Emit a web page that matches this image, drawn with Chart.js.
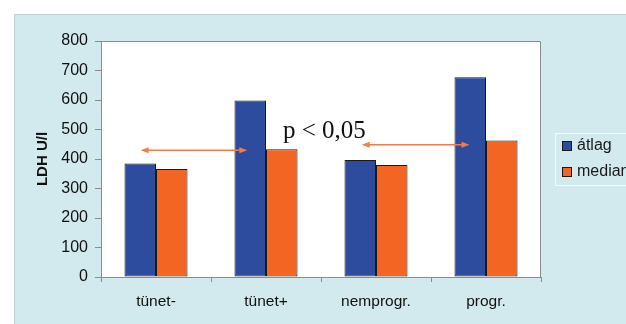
<!DOCTYPE html>
<html lang="hu">
  <head>
    <meta charset="UTF-8" />
    <script src="https://cdn.jsdelivr.net/npm/chart.js"></script>
    <style>
      body { margin: 0; background: #fff; overflow: hidden; }
      #myChart { display: block; }
    </style>
  </head>
  <body>
    <canvas id="myChart" width="626" height="324"></canvas>

    <script>
      const categories = ["tünet-", "tünet+", "nemprogr.", "progr."];
      const atlag = [385, 598, 397, 677];
      const median = [366, 433, 380, 463];
      const seriesNames = ["átlag", "median"];
      const yTicks = [0, 100, 200, 300, 400, 500, 600, 700, 800];
      // arrows: from/to in category index units, at an LDH level
      const arrowFrom = [-0.14, 1.87];
      const arrowTo = [0.83, 2.85];
      const arrowLevel = [430, 448];
      const pText = "p < 0,05";

      const BLUE = "#2e4c9e";
      const ORANGE = "#f26522";
      const BG = "#d2e9ee";
      const AXIS = "#8c8c8c";

      const backdrop = {
        id: "backdrop",
        beforeDraw(chart) {
          const c = chart.ctx;
          const a = chart.chartArea;
          c.save();
          c.fillStyle = "#fff";
          c.fillRect(0, 0, chart.width, chart.height);
          c.fillStyle = BG;
          c.fillRect(14, 14, chart.width - 14, chart.height - 14);
          c.strokeStyle = "#c3cdd1";
          c.lineWidth = 1;
          c.beginPath();
          c.moveTo(14.5, chart.height);
          c.lineTo(14.5, 14.5);
          c.lineTo(chart.width, 14.5);
          c.stroke();
          c.fillStyle = "#fff";
          c.fillRect(a.left, a.top, a.right - a.left, a.bottom - a.top);
          c.restore();
        },
        afterDraw(chart) {
          const c = chart.ctx;
          const a = chart.chartArea;
          const x = chart.scales.x;
          const y = chart.scales.y;
          c.save();
          // plot frame top/right
          c.strokeStyle = AXIS;
          c.lineWidth = 1;
          c.beginPath();
          c.moveTo(a.left, a.top + 0.5);
          c.lineTo(a.right - 0.5, a.top + 0.5);
          c.lineTo(a.right - 0.5, a.bottom);
          c.stroke();

          // arrows
          c.strokeStyle = "#f47b4a";
          c.fillStyle = "#f47b4a";
          c.lineWidth = 1.5;
          for (let i = 0; i < arrowFrom.length; i++) {
            const x1 = x.getPixelForValue(arrowFrom[i]);
            const x2 = x.getPixelForValue(arrowTo[i]);
            const yy = y.getPixelForValue(arrowLevel[i]);
            c.beginPath();
            c.moveTo(x1 + 4, yy);
            c.lineTo(x2 - 4, yy);
            c.stroke();
            c.beginPath();
            c.moveTo(x1, yy);
            c.lineTo(x1 + 8, yy - 3);
            c.lineTo(x1 + 8, yy + 3);
            c.closePath();
            c.fill();
            c.beginPath();
            c.moveTo(x2, yy);
            c.lineTo(x2 - 8, yy - 3);
            c.lineTo(x2 - 8, yy + 3);
            c.closePath();
            c.fill();
          }

          // p value
          c.fillStyle = "#111";
          c.font = "25px 'Liberation Serif', 'Times New Roman', serif";
          c.textBaseline = "alphabetic";
          c.textAlign = "left";
          c.fillText(pText, 283, 138);

          // legend
          const lx = 555.5, ly = 133.5;
          c.strokeStyle = "#f4f8f9";
          c.lineWidth = 1;
          c.strokeRect(lx, ly, 100, 52);
          c.font = "16px 'Liberation Sans', Arial, sans-serif";
          c.textBaseline = "middle";
          const cols = [BLUE, ORANGE];
          const rowY = [146, 172];
          for (let i = 0; i < seriesNames.length; i++) {
            c.fillStyle = cols[i];
            c.fillRect(562, rowY[i] - 5, 9, 9);
            c.strokeStyle = "#1a1a1a";
            c.strokeRect(562.5, rowY[i] - 4.5, 9, 9);
            c.fillStyle = "#1a1a1a";
            c.fillText(seriesNames[i], 577, rowY[i]);
          }
          c.restore();
        },
      };

      const ctx = document.getElementById("myChart");

      const myChart = new Chart(ctx, {
        type: "bar",
        data: {
          labels: categories,
          datasets: [
            {
              label: seriesNames[0],
              data: atlag,
              backgroundColor: BLUE,
              borderColor: "#1a1a1a",
              borderWidth: 1,
              borderSkipped: false,
            },
            {
              label: seriesNames[1],
              data: median,
              backgroundColor: ORANGE,
              borderColor: "#1a1a1a",
              borderWidth: 1,
              borderSkipped: false,
            },
          ],
        },
        options: {
          responsive: false,
          animation: false,
          events: [],
          layout: { padding: { left: 0, top: 41, right: 85, bottom: 0 } },
          datasets: {
            bar: { barPercentage: 1, categoryPercentage: 0.573 },
          },
          plugins: {
            legend: { display: false },
            tooltip: { enabled: false },
          },
          scales: {
            x: {
              afterFit: (s) => { s.height = 47; },
              grid: {
                drawOnChartArea: false,
                offset: true,
                tickLength: 5,
                color: AXIS,
              },
              border: { color: AXIS },
              ticks: {
                padding: 10,
                color: "#111",
                font: { family: "'Liberation Sans', Arial, sans-serif", size: 15.5 },
              },
            },
            y: {
              min: 0,
              max: 800,
              afterFit: (s) => { s.width = 101; },
              afterBuildTicks: (s) => { s.ticks = yTicks.map((v) => ({ value: v })); },
              grid: {
                drawOnChartArea: false,
                tickLength: 6,
                color: AXIS,
              },
              border: { color: AXIS },
              ticks: {
                padding: 7,
                color: "#111",
                font: { family: "'Liberation Sans', Arial, sans-serif", size: 16 },
              },
              title: {
                display: true,
                text: "LDH U/l",
                color: "#111",
                padding: { top: 34, bottom: 0 },
                font: { family: "'Liberation Sans', Arial, sans-serif", size: 15, weight: "bold" },
              },
            },
          },
        },
        plugins: [backdrop],
      });
    </script>
  </body>
</html>
